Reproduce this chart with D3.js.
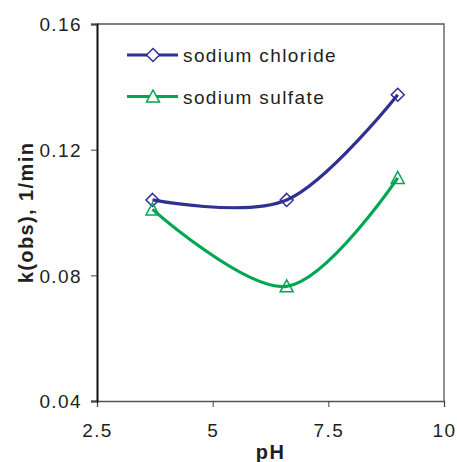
<!DOCTYPE html>
<html>
<head>
<meta charset="utf-8">
<script src="https://cdn.jsdelivr.net/npm/d3@7"></script>
<style>
  body { margin: 0; background: #fff; }
  svg { font-family: "Liberation Sans", Arial, sans-serif; }
</style>
</head>
<body>
<div id="chart"></div>
<script>
// values
const phValues = [3.7, 6.6, 9.0];
const chlorideValues = [0.104, 0.104, 0.1375];
const sulfateValues = [0.101, 0.0765, 0.111];
const seriesNames = ["sodium chloride", "sodium sulfate"];
const xTicks = [2.5, 5, 7.5, 10];
const yTicks = [0.04, 0.08, 0.12, 0.16];

const W = 457, H = 462;
const margin = {top: 24, right: 13, bottom: 61, left: 97};
const blue = "#2e3192", green = "#00a651", textCol = "#231f20";
const spacing = 1.4;

const svg = d3.select("#chart").append("svg").attr("width", W).attr("height", H);

const x = d3.scaleLinear().domain([2.5, 10]).range([margin.left, W - margin.right]);
const y = d3.scaleLinear().domain([0.04, 0.16]).range([H - margin.bottom, margin.top]);

// frame: top and right grey
svg.append("path")
    .attr("d", `M${x(2.5)},${y(0.16)}H${x(10)}V${y(0.04)}`)
    .attr("fill", "none").attr("stroke", "#555").attr("stroke-width", 1.3);

// axes
const xAxis = svg.append("g")
    .attr("transform", `translate(0,${y(0.04)})`)
    .call(d3.axisBottom(x).tickValues(xTicks).tickSize(6).tickFormat(d3.format("")));
const yAxis = svg.append("g")
    .attr("transform", `translate(${x(2.5)},0)`)
    .call(d3.axisLeft(y).tickValues(yTicks).tickSize(6).tickFormat(d3.format(".2f")));

xAxis.select(".domain").attr("stroke", "#555").attr("stroke-width", 1.3);
yAxis.select(".domain").attr("stroke", "#111").attr("stroke-width", 2);
[xAxis, yAxis].forEach(a => {
    a.selectAll(".tick line").attr("stroke", "#444").attr("stroke-width", 1);
    a.selectAll("text").attr("font-size", 19).attr("fill", textCol)
        .attr("letter-spacing", spacing)
        .attr("font-family", "'Liberation Sans', Arial, sans-serif");
});
xAxis.selectAll("text").attr("dy", null).attr("y", 36);
yAxis.selectAll("text").attr("x", -15).attr("dy", "0.36em");

// axis titles
svg.append("text")
    .attr("x", (x(2.5) + x(10)) / 2).attr("y", 459)
    .attr("text-anchor", "middle").attr("font-size", 20).attr("font-weight", "bold")
    .attr("letter-spacing", spacing)
    .attr("fill", textCol).text("pH");
svg.append("text")
    .attr("transform", `translate(33,${(y(0.04) + y(0.16)) / 2}) rotate(-90)`)
    .attr("text-anchor", "middle").attr("font-size", 20).attr("font-weight", "bold")
    .attr("letter-spacing", spacing)
    .attr("fill", textCol).text("k(obs),  1/min");

const line = d3.line()
    .x(d => x(d[0])).y(d => y(d[1]))
    .curve(d3.curveCardinal.tension(0));

const chloride = phValues.map((p, i) => [p, chlorideValues[i]]);
const sulfate = phValues.map((p, i) => [p, sulfateValues[i]]);

const diamond = (cx, cy, r) => `M${cx},${cy - r}L${cx + r},${cy}L${cx},${cy + r}L${cx - r},${cy}Z`;
const triangle = (cx, cy, r) => `M${cx},${cy - r}L${cx + r},${cy + r * 0.85}L${cx - r},${cy + r * 0.85}Z`;

svg.append("path").datum(chloride).attr("d", line)
    .attr("fill", "none").attr("stroke", blue).attr("stroke-width", 3.2);
svg.append("path").datum(sulfate).attr("d", line)
    .attr("fill", "none").attr("stroke", green).attr("stroke-width", 3.2);

svg.selectAll(".mk-cl").data(chloride).enter().append("path")
    .attr("d", d => diamond(x(d[0]), y(d[1]), 6.5))
    .attr("fill", "none").attr("stroke", blue).attr("stroke-width", 1.5);
svg.selectAll(".mk-su").data(sulfate).enter().append("path")
    .attr("d", d => triangle(x(d[0]), y(d[1]), 6.5))
    .attr("fill", "none").attr("stroke", green).attr("stroke-width", 1.5);

// legend
const legend = svg.append("g");
[[blue, diamond], [green, triangle]].forEach(([col, shape], i) => {
    const ly = 55 + i * 41.5;
    legend.append("line").attr("x1", 127).attr("x2", 178).attr("y1", ly).attr("y2", ly)
        .attr("stroke", col).attr("stroke-width", 3.2);
    legend.append("path").attr("d", shape(153, ly, 6.5))
        .attr("fill", "#fff").attr("stroke", col).attr("stroke-width", 1.5);
    legend.append("text").attr("x", 183).attr("y", ly + 7)
        .attr("font-size", 19).attr("letter-spacing", spacing)
        .attr("fill", textCol).text(seriesNames[i]);
});
</script>
</body>
</html>
